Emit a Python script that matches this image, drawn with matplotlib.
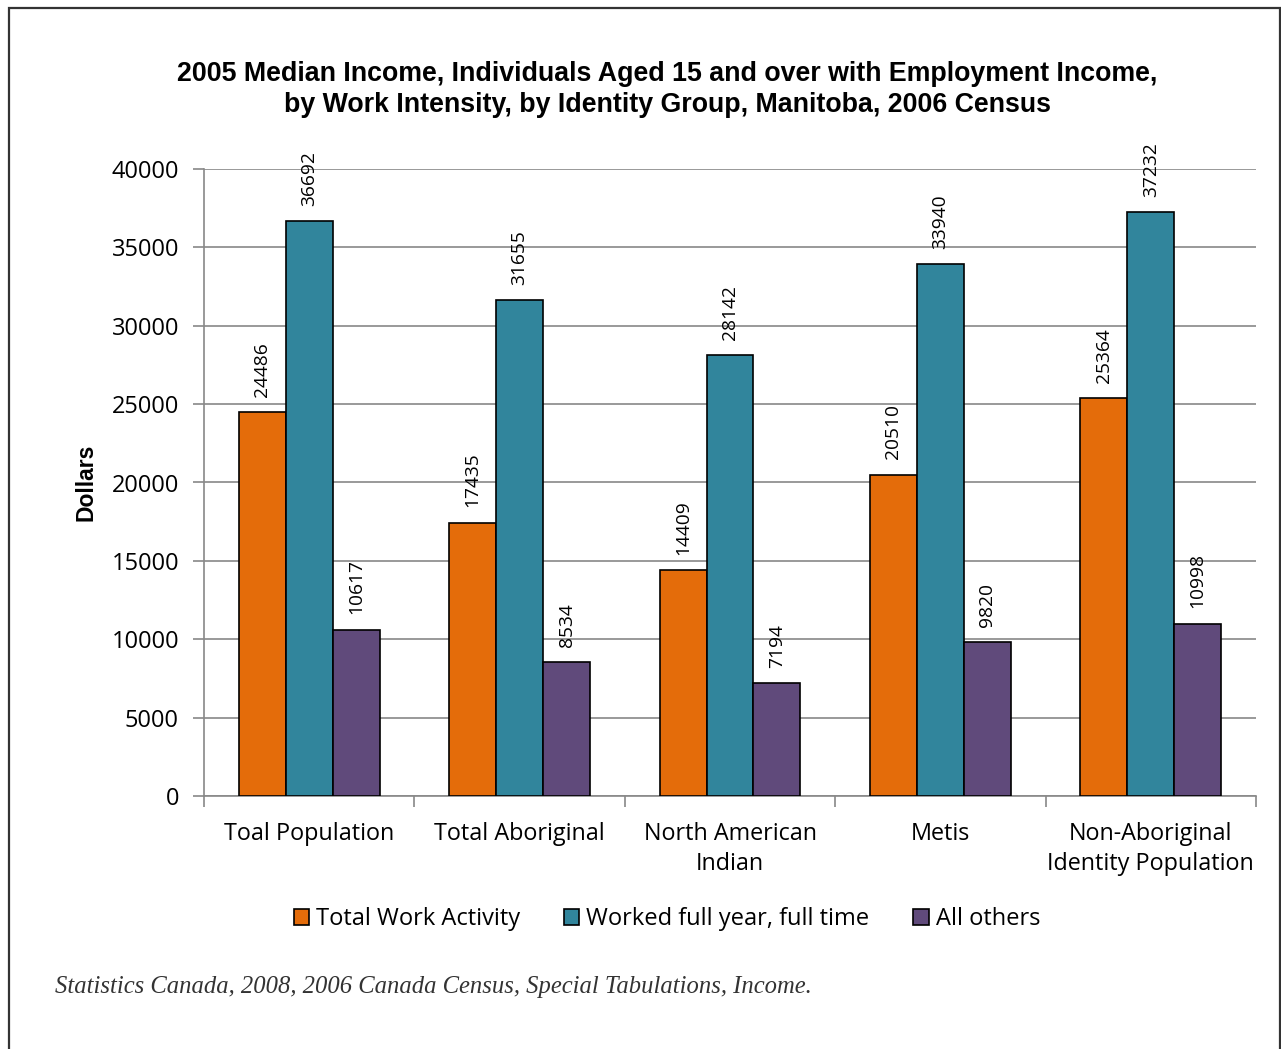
import matplotlib
matplotlib.use("Agg")
import matplotlib.pyplot as plt
from matplotlib.patches import Rectangle, Patch
import numpy as np

# Median 2005 income (dollars) by identity group and work intensity
groups = ["Toal Population", "Total Aboriginal", "North American\nIndian",
          "Metis", "Non-Aboriginal\nIdentity Population"]
series_names = ["Total Work Activity", "Worked full year, full time", "All others"]
total_work = [24486, 17435, 14409, 20510, 25364]
full_year = [36692, 31655, 28142, 33940, 37232]
all_others = [10617, 8534, 7194, 9820, 10998]
y_ticks = [0, 5000, 10000, 15000, 20000, 25000, 30000, 35000, 40000]

colors = ["#E46C0A", "#31859C", "#604A7B"]
label_font = "Open Sans"

W, H = 1281, 1049
fig = plt.figure(figsize=(W / 100, H / 100), dpi=100)
fig.patch.set_facecolor("white")

# outer frame around the chart area
fig.patches.append(Rectangle((9 / W, -0.05), (1280 - 9) / W, 1.05 - 8 / H,
                             transform=fig.transFigure, fill=False,
                             edgecolor="#333333", linewidth=1.6, zorder=10))

ax = fig.add_axes([204 / W, 1 - 796 / H, (1256 - 204) / W, (796 - 169) / H])

x = np.arange(len(groups))
bw = 0.223
for i, (vals, c) in enumerate(zip([total_work, full_year, all_others], colors)):
    pos = x + (i - 1) * bw
    ax.bar(pos, vals, width=bw, color=c, edgecolor="black",
           linewidth=1.2, zorder=3, label=series_names[i])
    for xp, v in zip(pos, vals):
        ax.annotate(str(v), (xp, v), xytext=(0, 11), textcoords="offset points",
                    rotation=90, ha="center", va="bottom",
                    fontsize=13.8, family=label_font, color="black")

ax.set_xlim(-0.5, len(groups) - 0.5)
ax.set_ylim(0, 40000)
ax.set_yticks(y_ticks)
ax.set_yticklabels([str(t) for t in y_ticks], family=label_font, fontsize=17)
ax.tick_params(axis="y", length=8, width=1.2, color="#888888", pad=10)

ax.set_xticks(x)
ax.set_xticklabels(groups, family=label_font, fontsize=16.8, linespacing=1.35)
ax.tick_params(axis="x", which="major", length=0, pad=18.5)
ax.set_xticks(np.arange(-0.5, len(groups)), minor=True)
ax.tick_params(axis="x", which="minor", length=8, width=1.2, color="#888888")

ax.grid(axis="y", color="#888888", linewidth=1.2, zorder=0)
for s in ["top", "right"]:
    ax.spines[s].set_visible(False)
for s in ["left", "bottom"]:
    ax.spines[s].set_color("#888888")
    ax.spines[s].set_linewidth(1.2)

ax.set_ylabel("Dollars", family="Liberation Sans", fontweight="bold",
              fontsize=16.5, labelpad=10)

fig.text(667 / W, 1 - 89.5 / H,
         "2005 Median Income, Individuals Aged 15 and over with Employment Income,\n"
         "by Work Intensity, by Identity Group, Manitoba, 2006 Census",
         ha="center", va="center", family="Liberation Sans", fontweight="bold",
         fontsize=19.3, linespacing=1.22)

handles = [Patch(facecolor=c, edgecolor="black", linewidth=1.2) for c in colors]
fig.legend(handles, series_names, loc="center", bbox_to_anchor=(667 / W, 1 - 919 / H),
           ncol=3, frameon=False, prop={"family": label_font, "size": 17},
           handlelength=0.65, handleheight=0.65, handletextpad=0.3,
           columnspacing=1.85)

fig.text(55 / W, 1 - 987 / H,
         "Statistics Canada, 2008, 2006 Canada Census, Special Tabulations, Income.",
         ha="left", va="center", family="Liberation Serif", style="italic",
         fontsize=17.7, color="#333333")

fig.savefig("out.png", dpi=100, facecolor="white")
